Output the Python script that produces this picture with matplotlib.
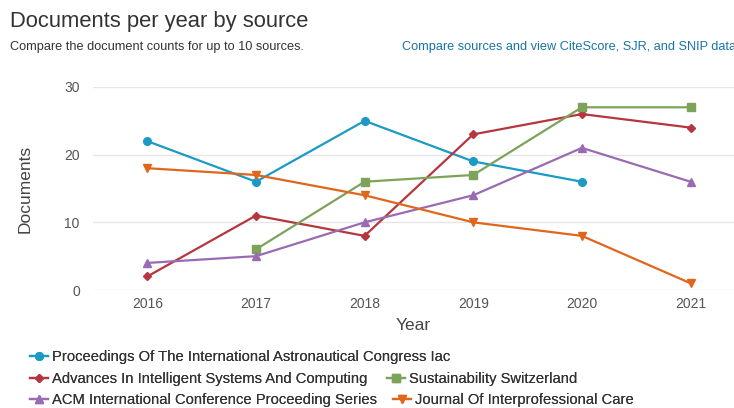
import matplotlib.pyplot as plt
import numpy as np

plt.rcParams['font.family'] = ['Liberation Sans', 'DejaVu Sans']

years = [2016, 2017, 2018, 2019, 2020, 2021]

# series values (None = no data that year)
iac = [22, 16, 25, 19, 16, None]
aisc = [2, 11, 8, 23, 26, 24]
sust = [None, 6, 16, 17, 27, 27]
acm = [4, 5, 10, 14, 21, 16]
jipc = [18, 17, 14, 10, 8, 1]

names = ['Proceedings Of The International Astronautical Congress Iac',
         'Advances In Intelligent Systems And Computing',
         'Sustainability Switzerland',
         'ACM International Conference Proceeding Series',
         'Journal Of Interprofessional Care']
colors = ['#1b9ac6', '#b5363d', '#7da35a', '#9a6bb3', '#e0661c']
markers = ['o', 'D', 's', '^', 'v']
msizes = [5.5, 4.5, 5.5, 5.5, 5.5]

fig = plt.figure(figsize=(7.34, 4.08), dpi=100)
ax = fig.add_axes([93/734, 1-290/408, 1-93/734, 203/408])

lines = []
for vals, name, c, m, ms in zip([iac, aisc, sust, acm, jipc], names, colors, markers, msizes):
    x = [yr for yr, v in zip(years, vals) if v is not None]
    y = [v for v in vals if v is not None]
    ln, = ax.plot(x, y, color=c, marker=m, markersize=ms, linewidth=1.6, label=name)
    lines.append(ln)

ax.set_xlim(2015.5, 2021.4)
ax.set_ylim(0, 30)
ax.set_yticks([0, 10, 20, 30])
ax.set_xticks(years)
ax.grid(axis='y', color='#e6e6e6', linewidth=1)
ax.set_axisbelow(True)
for s in ax.spines.values():
    s.set_visible(False)
ax.tick_params(length=0, colors='#555555', labelsize=10)
ax.tick_params(axis='x', pad=5)
ax.tick_params(axis='y', pad=9.5)
ax.set_ylabel('Documents', fontsize=12.5, color='#444444')
ax.set_xlabel('Year', fontsize=12.5, color='#444444')
ax.yaxis.set_label_coords(-68/641, 0.5)
ax.xaxis.set_label_coords(0.5, -35/203)
ax.xaxis.label.set_va('center')
ax.yaxis.label.set_va('center')

fig.text(10/734, 1-21/408, 'Documents per year by source', fontsize=15.8,
         color='#333333', va='center')
fig.text(10/734, 1-47/408, 'Compare the document counts for up to 10 sources.',
         fontsize=9.2, color='#333333', va='center')
fig.text(402/734, 1-47/408, 'Compare sources and view CiteScore, SJR, and SNIP data',
         fontsize=9.2, color='#1a73a8', va='center')

# legend items: (series index, x px, y px)
items = [(0, 30, 357), (1, 30, 379), (2, 387, 379), (3, 30, 400), (4, 393, 400)]
for i, xpx, ypx in items:
    leg = fig.legend([lines[i]], [names[i]],
                     loc='center left', bbox_to_anchor=(xpx/734, 1-ypx/408),
                     frameon=False, fontsize=10.6,
                     handlelength=1.2, handletextpad=0.3,
                     borderpad=0, borderaxespad=0)
    for t in leg.get_texts():
        t.set_color('#333333')
    fig.add_artist(leg)

fig.savefig('out.png', dpi=100)
